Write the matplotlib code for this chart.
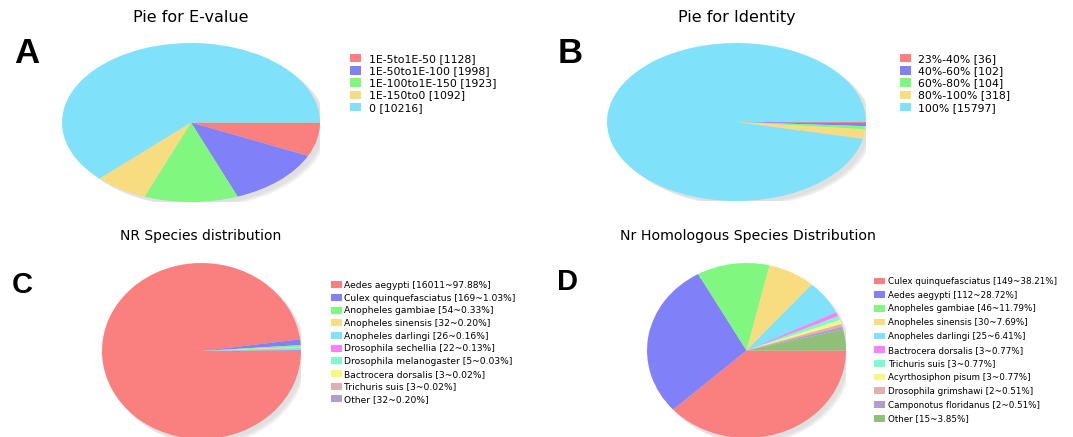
import matplotlib
matplotlib.use('Agg')
import matplotlib.pyplot as plt
from matplotlib.patches import Patch, Ellipse

# figure size in pixels (dpi 100)
W, H = 1073, 437

# ---- data ----
evalue_labels = ['1E-5to1E-50 [1128]', '1E-50to1E-100 [1998]', '1E-100to1E-150 [1923]',
                 '1E-150to0 [1092]', '0 [10216]']
evalue_counts = [1128, 1998, 1923, 1092, 10216]

identity_labels = ['23%-40% [36]', '40%-60% [102]', '60%-80% [104]', '80%-100% [318]', '100% [15797]']
identity_counts = [36, 102, 104, 318, 15797]

nr_species = ['Aedes aegypti', 'Culex quinquefasciatus', 'Anopheles gambiae', 'Anopheles sinensis',
              'Anopheles darlingi', 'Drosophila sechellia', 'Drosophila melanogaster',
              'Bactrocera dorsalis', 'Trichuris suis', 'Other']
nr_counts = [16011, 169, 54, 32, 26, 22, 5, 3, 3, 32]
nr_pct = ['97.88%', '1.03%', '0.33%', '0.20%', '0.16%', '0.13%', '0.03%', '0.02%', '0.02%', '0.20%']

hom_species = ['Culex quinquefasciatus', 'Aedes aegypti', 'Anopheles gambiae', 'Anopheles sinensis',
               'Anopheles darlingi', 'Bactrocera dorsalis', 'Trichuris suis', 'Acyrthosiphon pisum',
               'Drosophila grimshawi', 'Camponotus floridanus', 'Other']
hom_counts = [149, 112, 46, 30, 25, 3, 3, 3, 2, 2, 15]
hom_pct = ['38.21%', '28.72%', '11.79%', '7.69%', '6.41%', '0.77%', '0.77%', '0.77%', '0.51%', '0.51%', '3.85%']

# ---- colours ----
five_colors = ['#fa8080', '#8080f8', '#80f880', '#f8dc80', '#80e2fa']
nr_colors = ['#fa8080', '#8080f8', '#80f880', '#f8dc80', '#80e2fa', '#f880f8',
             '#80f8d0', '#f8f880', '#e0b0b0', '#b09cd0']
hom_colors = ['#fa8080', '#8080f8', '#80f880', '#f8dc80', '#80e2fa', '#f880f8',
              '#80f8d0', '#f8f880', '#e0b0b0', '#b09cd0', '#90c078']

nr_labels = [f'{s} [{c}~{p}]' for s, c, p in zip(nr_species, nr_counts, nr_pct)]
hom_labels = [f'{s} [{c}~{p}]' for s, c, p in zip(hom_species, hom_counts, hom_pct)]

fig = plt.figure(figsize=(W / 100, H / 100), dpi=100)
fig.patch.set_facecolor('white')


def pie_panel(box, values, colors):
    x0, y0, x1, y1 = box
    ax = fig.add_axes([x0 / W, 1 - y1 / H, (x1 - x0) / W, (y1 - y0) / H])
    # soft shadow to the lower right
    for i, a in enumerate([0.10, 0.10, 0.12]):
        d = 0.012 * (i + 1)
        ax.add_patch(Ellipse((0.02 + d, -0.03 - d), 2.0, 2.0, color='#999999', alpha=a,
                             lw=0, zorder=0))
    ax.pie(values, colors=colors, startangle=0, counterclock=False, radius=1,
           wedgeprops=dict(linewidth=0))
    ax.set_xlim(-1, 1)
    ax.set_ylim(-1, 1)
    ax.set_aspect('auto')
    ax.axis('off')
    return ax


def legend_panel(x, ytop, colors, labels, size, spacing, pad):
    handles = [Patch(facecolor=c, edgecolor='none') for c in colors]
    fig.legend(handles, labels, loc='upper left', bbox_to_anchor=(x / W, 1 - ytop / H),
               frameon=False, fontsize=size, handlelength=10.5 / (size * 100 / 72),
               handleheight=0.8, handletextpad=pad, labelspacing=spacing,
               borderpad=0, borderaxespad=0)


# panel A
pie_panel((62, 43, 320, 202), evalue_counts, five_colors)
legend_panel(350, 54, five_colors, evalue_labels, 7.8, 0.2, 0.75)
fig.text(191 / W, 1 - 22 / H, 'Pie for E-value', ha='center', va='baseline', fontsize=11.5)

# panel B
pie_panel((607, 43, 866, 201), identity_counts, five_colors)
legend_panel(900, 54, five_colors, identity_labels, 7.8, 0.2, 0.65)
fig.text(737 / W, 1 - 22 / H, 'Pie for Identity', ha='center', va='baseline', fontsize=11.5)

# panel C
pie_panel((102, 263, 301, 439), nr_counts, nr_colors)
legend_panel(331, 281, nr_colors, nr_labels, 6.6, 0.4, 0.25)
fig.text(201 / W, 1 - 240 / H, 'NR Species distribution', ha='center', va='baseline',
         fontsize=10)

# panel D
pie_panel((647, 263, 846, 438), hom_counts, hom_colors)
legend_panel(874, 277, hom_colors, hom_labels, 6.3, 0.54, 0.4)
fig.text(748 / W, 1 - 240.5 / H, 'Nr Homologous Species Distribution', ha='center',
         va='baseline', fontsize=10.2)

# panel letters
for letter, x, y, fs in [('A', 14, 63, 25), ('B', 558, 63, 25), ('C', 12, 293, 21), ('D', 557, 290, 21)]:
    fig.text(x / W, 1 - y / H, letter, ha='left', va='baseline', fontsize=fs,
             fontweight='bold', family='Liberation Sans')

fig.savefig('out.png', dpi=100)
